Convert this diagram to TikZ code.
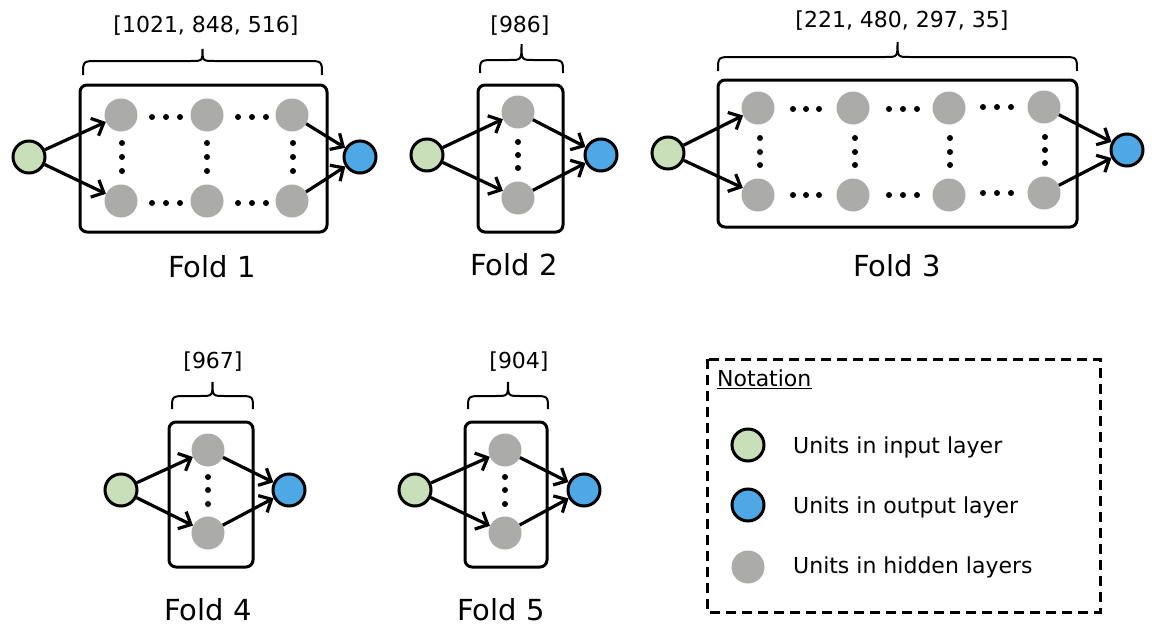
\documentclass[tikz,border=0pt]{standalone}
\usepackage{fontspec}
\setmainfont{DejaVu Sans}
\usetikzlibrary{arrows.meta}
\definecolor{ingreen}{RGB}{200,223,185}
\definecolor{outblue}{RGB}{78,168,230}
\definecolor{hidgray}{RGB}{171,171,169}
\newcommand\smallfont{\fontsize{22}{26}\selectfont}
\newcommand\bigfont{\fontsize{29}{34}\selectfont}
\newcommand\mybrace[5]{%
  \pgfmathsetmacro\bxc{(#1+#2)/2}%
  \draw[bracel] (#1,#3) .. controls (#1,#4) .. (#1+15,#4) -- (\bxc-12,#4)
    .. controls (\bxc,#4) .. (\bxc,#5) .. controls (\bxc,#4) .. (\bxc+12,#4)
    -- (#2-15,#4) .. controls (#2,#4) .. (#2,#3);}
\begin{document}
\begin{tikzpicture}[x=1pt,y=-1pt,
  inp/.style={circle, draw, line width=3pt, fill=ingreen, minimum size=32pt, inner sep=0pt},
  outp/.style={circle, draw, line width=3pt, fill=outblue, minimum size=32pt, inner sep=0pt},
  hid/.style={circle, fill=hidgray, minimum size=33pt, inner sep=0pt},
  frame/.style={draw, line width=3pt, rounded corners=7pt},
  conn/.style={line width=3.2pt, -{Straight Barb[length=10pt,width=19pt]}},
  bracel/.style={line width=2pt},
  lab/.style={inner sep=0pt, anchor=base, font=\smallfont},
  foldlab/.style={inner sep=0pt, anchor=base, font=\bigfont},
  legtext/.style={inner sep=0pt, anchor=base west, font=\smallfont},
  dotr/.style={fill=black}]
\useasboundingbox (0,0) rectangle (1152,624);

% ---------------- Fold 1 ----------------
\draw[frame] (80,85) rectangle (327,232);
\node[inp] (in1) at (29,157) {};
\node[outp] (out1) at (360,157) {};
\node[hid] (f1a) at (121,115) {};
\node[hid] (f1b) at (207,115) {};
\node[hid] (f1c) at (292,115) {};
\node[hid] (f1d) at (121,201) {};
\node[hid] (f1e) at (207,201) {};
\node[hid] (f1f) at (292,201) {};
\foreach \x in {152,166,180,238,252,266} {
  \fill[dotr] (\x,117) circle (3); \fill[dotr] (\x,203) circle (3);}
\foreach \x in {122,207,293} \foreach \y in {143,157,171} {\fill[dotr] (\x,\y) circle (3);}
\draw[conn] (in1) -- (f1a);
\draw[conn] (in1) -- (f1d);
\draw[conn] (f1c) -- (out1);
\draw[conn] (f1f) -- (out1);
\mybrace{83}{322}{75}{61}{49}
\node[lab] (l1) at (206,32) {[1021, 848, 516]};
\node[foldlab] (t1) at (212,277) {Fold 1};

% ---------------- Fold 2 ----------------
\draw[frame] (478,85) rectangle (563,232);
\node[inp] (in2) at (427,155) {};
\node[outp] (out2) at (601,155) {};
\node[hid] (f2a) at (518,112) {};
\node[hid] (f2b) at (518,198) {};
\foreach \y in {142,155,168} {\fill[dotr] (518,\y) circle (3);}
\draw[conn] (in2) -- (f2a);
\draw[conn] (in2) -- (f2b);
\draw[conn] (f2a) -- (out2);
\draw[conn] (f2b) -- (out2);
\mybrace{480}{563}{73}{60}{44}
\node[lab] (l2) at (520,32) {[986]};
\node[foldlab] (t2) at (514,275) {Fold 2};

% ---------------- Fold 3 ----------------
\draw[frame] (718,80) rectangle (1077,227);
\node[inp] (in3) at (668,153) {};
\node[outp] (out3) at (1127,150) {};
\node[hid] (f3a) at (758,108) {};
\node[hid] (f3b) at (853,108) {};
\node[hid] (f3c) at (949,108) {};
\node[hid] (f3d) at (1044,107) {};
\node[hid] (f3e) at (758,195) {};
\node[hid] (f3f) at (853,195) {};
\node[hid] (f3g) at (949,195) {};
\node[hid] (f3h) at (1044,193) {};
\foreach \x in {793,806,819,889,903,917} {
  \fill[dotr] (\x,109) circle (3); \fill[dotr] (\x,195) circle (3);}
\foreach \x in {983,997,1011} {
  \fill[dotr] (\x,107) circle (3); \fill[dotr] (\x,193) circle (3);}
\foreach \x in {760,855,950} \foreach \y in {138,152,165} {\fill[dotr] (\x,\y) circle (3);}
\foreach \y in {137,150,163} {\fill[dotr] (1045,\y) circle (3);}
\draw[conn] (in3) -- (f3a);
\draw[conn] (in3) -- (f3e);
\draw[conn] (f3d) -- (out3);
\draw[conn] (f3h) -- (out3);
\mybrace{718}{1077}{71}{57}{42}
\node[lab] (l3) at (902,27) {[221, 480, 297, 35]};
\node[foldlab] (t3) at (897,276) {Fold 3};

% ---------------- Fold 4 ----------------
\draw[frame] (169,422) rectangle (253,567);
\node[inp] (in4) at (121,490) {};
\node[outp] (out4) at (289,490) {};
\node[hid] (f4a) at (208,450) {};
\node[hid] (f4b) at (208,533) {};
\foreach \y in {477,490,504} {\fill[dotr] (208,\y) circle (3);}
\draw[conn] (in4) -- (f4a);
\draw[conn] (in4) -- (f4b);
\draw[conn] (f4a) -- (out4);
\draw[conn] (f4b) -- (out4);
\mybrace{172}{253}{409}{396}{382}
\node[lab] (l4) at (213,368) {[967]};
\node[foldlab] (t4) at (208,620) {Fold 4};

% ---------------- Fold 5 ----------------
\draw[frame] (465,422) rectangle (547,567);
\node[inp] (in5) at (415,490) {};
\node[outp] (out5) at (584,490) {};
\node[hid] (f5a) at (505,450) {};
\node[hid] (f5b) at (505,533) {};
\foreach \y in {477,490,504} {\fill[dotr] (505,\y) circle (3);}
\draw[conn] (in5) -- (f5a);
\draw[conn] (in5) -- (f5b);
\draw[conn] (f5a) -- (out5);
\draw[conn] (f5b) -- (out5);
\mybrace{468}{548}{409}{396}{382}
\node[lab] (l5) at (519,368) {[904]};
\node[foldlab] (t5) at (501,620) {Fold 5};

% ---------------- Legend ----------------
\draw[line width=3pt, dash pattern=on 10pt off 6pt] (707,359) rectangle (1100,612);
\node[legtext] (nota) at (717,386) {Notation};
\draw[line width=1.5pt] ([yshift=-2.5pt]nota.base west) -- ([yshift=-2.5pt]nota.base east);
\node[inp] (lin) at (748,445) {};
\node[outp] (lout) at (748,505) {};
\node[hid] (lhid) at (748,567) {};
\node[legtext] (tin) at (793,453) {Units in input layer};
\node[legtext] (tout) at (793,513) {Units in output layer};
\node[legtext] (thid) at (793,573) {Units in hidden layers};
\end{tikzpicture}
\end{document}
